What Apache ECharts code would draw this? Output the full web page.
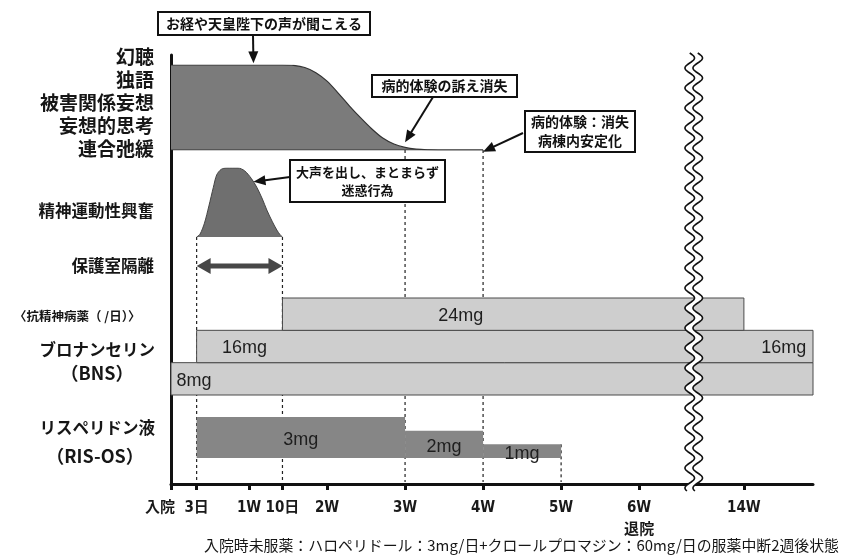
<!DOCTYPE html>
<html><head><meta charset="utf-8">
<script src="https://cdn.jsdelivr.net/npm/echarts@6/dist/echarts.min.js"></script>
<style>html,body{margin:0;padding:0;background:#fff}#c{width:842px;height:556px}</style>
</head><body><div id="c"></div>
<script>
// ---------------- data ----------------
const SYMPTOM_NAMES = ['幻聴', '独語', '被害関係妄想', '妄想的思考', '連合弛緩'];
const SYMPTOM_DAYS  = [0, 5, 10, 11, 12, 13, 14, 15, 16, 17, 18, 19, 20, 21, 22, 23, 25, 28];
const SYMPTOM_LEVEL = [100, 100, 100, 99.5, 97, 91, 81, 67, 52, 38, 25, 14, 7, 3, 1, 0.3, 0, 0];

const EXCITE_NAME  = '精神運動性興奮';
const EXCITE_DAYS  = [2.3, 2.6, 3.0, 3.4, 3.8, 4.1, 4.5, 5.0, 5.5, 6.0, 6.6, 7.2, 7.7, 8.2, 8.6, 9.1, 9.5, 9.8, 10];
const EXCITE_LEVEL = [0, 4, 20, 45, 72, 90, 98, 100, 100, 100, 96, 85, 72, 55, 39, 22, 10, 3, 0];

const ISOLATION_NAME = '保護室隔離';
const ISOLATION_DAYS = [2.3, 10];

const DRUG_HEADER = '〈抗精神病薬（ /日）〉';
const BNS_NAME = ['ブロナンセリン', '（BNS）'];
const BNS_LAYER_START = [0, 2.3, 10];
const BNS_LAYER_END   = [104.2, 104.2, 98];
const BNS_LAYER_MG    = [8, 8, 8];
const BNS_LABELS    = ['8mg', '16mg', '24mg', '16mg'];
const BNS_LABEL_DAY = [0.5, 6.6, 26, 103.6];
const BNS_LABEL_MG  = [4, 12, 20, 12];
const BNS_LABEL_ALIGN = ['left', 'center', 'center', 'right'];

const RIS_NAME = ['リスペリドン液', '（RIS-OS）'];
const RIS_START = [2.3, 21, 28];
const RIS_END   = [21, 28, 35];
const RIS_MG    = [3, 2, 1];

const TICK_DAYS   = [0, 2.3, 7, 10, 14, 21, 28, 35, 42, 98];
const TICK_LABELS = ['入院', '3日', '1W', '10日', '2W', '3W', '4W', '5W', '6W\n退院', '14W'];
const BREAK = { from: 46.9, to: 93.5 };
const END_DAY = 104.2;

const GUIDES = [
  { day: 2.3, from: 'excite' }, { day: 10, from: 'excite' },
  { day: 21, from: 'symptom' }, { day: 28, from: 'symptom' },
  { day: 35, from: 'ris' }
];

const CALLOUTS = [
  { lines: ['お経や天皇陛下の声が聞こえる'], grid: 1, at: [7.4, 102], box: [158, 12, 212, 23], tail: [253, 35], size: 14 },
  { lines: ['病的体験の訴え消失'], grid: 1, at: [21, 9], box: [372, 75, 145, 22], tail: [433, 97], size: 14 },
  { lines: ['病的体験：消失', '病棟内安定化'], grid: 1, at: [28, -2], box: [525, 111, 110, 41], tail: [523, 133], size: 14 },
  { lines: ['大声を出し、まとまらず', '迷惑行為'], grid: 2, at: [7.4, 80], box: [290, 160, 155, 42], tail: [290, 177], size: 13 }
];

const FOOTNOTE = '入院時未服薬：ハロペリドール：3mg/日+クロールプロマジン：60mg/日の服薬中断2週後状態';

// ---------------- helpers ----------------
const disp = d => d <= BREAK.from ? d : BREAK.from + (d - BREAK.to);
const XMAX = disp(END_DAY);
const JP = '"Noto Sans CJK JP", "Noto Sans", sans-serif';
const NUM = '"Liberation Sans", Arial, "Noto Sans CJK JP", sans-serif';
const NARROW = '"Liberation Sans Narrow", "DejaVu Sans Condensed", "Liberation Sans", "Noto Sans CJK JP", sans-serif';

const GRIDS = [
  { left: 171, right: 29, top: 55, bottom: 72 },   // frame + axis
  { left: 171, right: 29, top: 65, height: 85 },   // symptoms
  { left: 171, right: 29, top: 168, height: 69 },  // excitement
  { left: 171, right: 29, top: 256, height: 20 },  // isolation
  { left: 171, right: 29, top: 298, height: 97 },  // BNS
  { left: 171, right: 29, top: 417, height: 41 }   // RIS
];
const YMAX = [1, 100, 100, 1, BNS_LAYER_MG.reduce((a, b) => a + b, 0), Math.max(...RIS_MG)];

const chart = echarts.init(document.getElementById('c'), null, { renderer: 'canvas' });

const tickVals = TICK_DAYS.map(disp);
const labelFor = v => { const i = tickVals.findIndex(t => Math.abs(t - v) < 1e-6); return i >= 0 ? TICK_LABELS[i] : ''; };
const LABEL_STYLE = { color: '#1a1a1a', fontSize: 15, fontWeight: 'bold', fontFamily: NARROW, lineHeight: 22 };

const xAxes = GRIDS.map((g, i) => {
  if (i !== 0) return { gridIndex: i, type: 'value', min: 0, max: XMAX, show: false };
  return {
    gridIndex: 0, type: 'value', min: 0, max: XMAX, position: 'bottom',
    axisLine: { show: true, onZero: false, lineStyle: { color: '#111', width: 3 } },
    axisTick: { show: true, customValues: tickVals, length: 6, lineStyle: { color: '#111', width: 3 } },
    axisLabel: Object.assign({ customValues: tickVals.slice(1), margin: 13, hideOverlap: false, formatter: labelFor }, LABEL_STYLE),
    splitLine: { show: false }
  };
});
// admission label on its own copy of the frame axis (sits left of its tick, as in the reference)
xAxes.push({
  gridIndex: 0, type: 'value', min: 0, max: XMAX, position: 'bottom', offset: 0,
  axisLine: { show: false }, axisTick: { show: false }, splitLine: { show: false },
  axisLabel: Object.assign({ customValues: tickVals.slice(0, 1), margin: 13,
    formatter: v => '{first|' + labelFor(v) + '}',
    rich: { first: Object.assign({ padding: [0, 22, 0, 0] }, LABEL_STYLE) } }, LABEL_STYLE)
});

const yAxes = GRIDS.map((g, i) => ({
  gridIndex: i, type: 'value', min: 0, max: YMAX[i], show: i === 0,
  axisLine: { show: i === 0, lineStyle: { color: '#111', width: 3 } },
  axisTick: { show: false }, axisLabel: { show: false }, splitLine: { show: false }
}));

const symptomData = SYMPTOM_DAYS.map((d, i) => [disp(d), SYMPTOM_LEVEL[i]]);
const exciteData = EXCITE_DAYS.map((d, i) => [disp(d), EXCITE_LEVEL[i]]);
const bnsData = BNS_LAYER_MG.map((mg, i) => {
  const low = BNS_LAYER_MG.slice(0, i).reduce((a, b) => a + b, 0);
  return [disp(BNS_LAYER_START[i]), disp(BNS_LAYER_END[i]), low, low + mg];
});
const bnsLabelData = BNS_LABELS.map((t, i) => [disp(BNS_LABEL_DAY[i]), BNS_LABEL_MG[i], i]);
const risData = RIS_MG.map((mg, i) => [disp(RIS_START[i]), disp(RIS_END[i]), mg, i]);

const series = [
  { type: 'line', xAxisIndex: 1, yAxisIndex: 1, data: symptomData, smooth: 0.3,
    symbol: 'none', lineStyle: { color: '#333', width: 1.2 }, areaStyle: { color: '#7b7b7b', opacity: 1 }, silent: true },
  { type: 'line', xAxisIndex: 1, yAxisIndex: 1, symbol: 'none', silent: true,
    data: [[disp(SYMPTOM_DAYS[0]), 0], [disp(SYMPTOM_DAYS[SYMPTOM_DAYS.length - 1]), 0]],
    lineStyle: { color: '#333', width: 1.2 } },
  { type: 'line', xAxisIndex: 2, yAxisIndex: 2, data: exciteData, smooth: 0.3,
    symbol: 'none', lineStyle: { color: '#444', width: 1 }, areaStyle: { color: '#6f6f6f', opacity: 1 }, silent: true },
  { type: 'custom', xAxisIndex: 3, yAxisIndex: 3, silent: true,
    data: [[disp(ISOLATION_DAYS[0]), disp(ISOLATION_DAYS[1])]],
    renderItem: (p, api) => {
      const s = api.coord([api.value(0), 0.5]), e = api.coord([api.value(1), 0.5]);
      const y = s[1], hl = 14, hh = 8, sh = 2.6;
      return { type: 'polygon', shape: { points: [
        [s[0], y], [s[0] + hl, y - hh], [s[0] + hl, y - sh], [e[0] - hl, y - sh], [e[0] - hl, y - hh],
        [e[0], y], [e[0] - hl, y + hh], [e[0] - hl, y + sh], [s[0] + hl, y + sh], [s[0] + hl, y + hh]] },
        style: { fill: '#474747' } };
    } },
  { type: 'custom', xAxisIndex: 4, yAxisIndex: 4, silent: true, data: bnsData,
    renderItem: (p, api) => {
      const a = api.coord([api.value(0), api.value(3)]), b = api.coord([api.value(1), api.value(2)]);
      return { type: 'rect', shape: { x: a[0], y: a[1], width: b[0] - a[0], height: b[1] - a[1] },
        style: { fill: '#cecece', stroke: '#4a4a4a', lineWidth: 1 } };
    } },
  { type: 'custom', xAxisIndex: 4, yAxisIndex: 4, silent: true, data: bnsLabelData, z: 5,
    renderItem: (p, api) => {
      const i = api.value(2), c = api.coord([api.value(0), api.value(1)]);
      return { type: 'text', x: c[0], y: c[1] + 2,
        style: { text: BNS_LABELS[i], align: BNS_LABEL_ALIGN[i], verticalAlign: 'middle',
          font: '18px ' + NUM, fill: '#1e1e1e' } };
    } },
  { type: 'custom', xAxisIndex: 5, yAxisIndex: 5, silent: true, data: risData,
    renderItem: (p, api) => {
      const a = api.coord([api.value(0), api.value(2)]), b = api.coord([api.value(1), 0]);
      return { type: 'group', children: [
        { type: 'rect', shape: { x: a[0], y: a[1], width: b[0] - a[0], height: b[1] - a[1] }, style: { fill: '#868686' } },
        { type: 'text', x: (a[0] + b[0]) / 2, y: (a[1] + b[1]) / 2 + 3,
          style: { text: RIS_MG[api.value(3)] + 'mg', align: 'center', verticalAlign: 'middle', font: '18px ' + NUM, fill: '#1e1e1e' } }
      ] };
    } }
];

chart.setOption({
  animation: false,
  backgroundColor: '#ffffff',
  grid: GRIDS, xAxis: xAxes, yAxis: yAxes, series
});

// ---------------- annotations positioned through the axes ----------------
const px = (g, day, v) => chart.convertToPixel({ gridIndex: g }, [disp(day), v]);
const G = [];

GUIDES.forEach(gd => {
  let top;
  if (gd.from === 'excite') top = px(2, gd.day, 0)[1];
  else if (gd.from === 'symptom') top = px(1, gd.day, 0)[1];
  else { const k = RIS_END.indexOf(gd.day); top = px(5, gd.day, RIS_MG[k])[1]; }
  const p = px(0, gd.day, 0);
  G.push({ type: 'line', z: 0, silent: true, shape: { x1: p[0], y1: top, x2: p[0], y2: p[1] - 2 },
    style: { stroke: '#222', lineWidth: 1.2, lineDash: [3, 3] } });
});

// wavy break band
(function () {
  const x0 = px(0, BREAK.from, 0)[0];
  const yTop = px(0, BREAK.from, 1)[1] - 2, yBot = px(0, BREAK.from, 0)[1] + 7;
  const A = 4.8, P = 20, off = 4;
  const left = [], right = [];
  for (let y = yTop; y <= yBot + 0.01; y += 1) {
    const c = x0 + A * Math.sin(2 * Math.PI * (y - yTop) / P);
    left.push([c - off, y]); right.push([c + off, y]);
  }
  G.push({ type: 'polygon', z: 50, silent: true, shape: { points: left.concat(right.slice().reverse()) }, style: { fill: '#fff' } });
  G.push({ type: 'polyline', z: 51, silent: true, shape: { points: left }, style: { stroke: '#111', lineWidth: 1.6, fill: null } });
  G.push({ type: 'polyline', z: 51, silent: true, shape: { points: right }, style: { stroke: '#111', lineWidth: 1.6, fill: null } });
})();

function arrowEls(from, to, head, width) {
  const dx = to[0] - from[0], dy = to[1] - from[1], len = Math.hypot(dx, dy);
  const ux = dx / len, uy = dy / len, bx = to[0] - ux * head, by = to[1] - uy * head;
  const nx = -uy * width / 2, ny = ux * width / 2;
  return [
    { type: 'line', z: 60, silent: true, shape: { x1: from[0], y1: from[1], x2: bx + ux * 2, y2: by + uy * 2 }, style: { stroke: '#111', lineWidth: 2 } },
    { type: 'polygon', z: 60, silent: true, shape: { points: [[to[0], to[1]], [bx + nx, by + ny], [bx - nx, by - ny]] }, style: { fill: '#111' } }
  ];
}

CALLOUTS.forEach(c => {
  const [bx, by, bw, bh] = c.box;
  G.push({ type: 'rect', z: 60, silent: true, shape: { x: bx, y: by, width: bw, height: bh }, style: { fill: '#fff', stroke: '#111', lineWidth: 2 } });
  const n = c.lines.length, lh = c.size + 5;
  c.lines.forEach((t, i) => {
    G.push({ type: 'text', z: 61, silent: true, x: bx + bw / 2, y: by + bh / 2 + (i - (n - 1) / 2) * lh,
      style: { text: t, align: 'center', verticalAlign: 'middle', font: 'bold ' + c.size + 'px ' + JP, fill: '#111' } });
  });
  const tip = px(c.grid, c.at[0], c.at[1]);
  arrowEls(c.tail, tip, 12, 10).forEach(e => G.push(e));
});

// row titles
function label(text, x, y, size, align, weight) {
  G.push({ type: 'text', z: 10, silent: true, x, y,
    style: { text, align, verticalAlign: 'middle', font: (weight || 'bold') + ' ' + size + 'px ' + JP, fill: '#161616' } });
}
SYMPTOM_NAMES.forEach((t, i) => label(t, 154, 57 + i * 23, 19, 'right'));
label(EXCITE_NAME, 154, 211, 16.5, 'right');
label(ISOLATION_NAME, 154, 266, 16.5, 'right');
label(DRUG_HEADER, 14, 316, 12.5, 'left');
label(BNS_NAME[0], 155, 350, 16.5, 'right');
label(BNS_NAME[1], 97, 373, 18, 'center');
label(RIS_NAME[0], 155, 428, 16.5, 'right');
label(RIS_NAME[1], 95, 456, 18, 'center');
label(FOOTNOTE, 204, 545, 14.9, 'left', 'normal');

chart.setOption({ graphic: { elements: G } });
</script>
</body></html>
